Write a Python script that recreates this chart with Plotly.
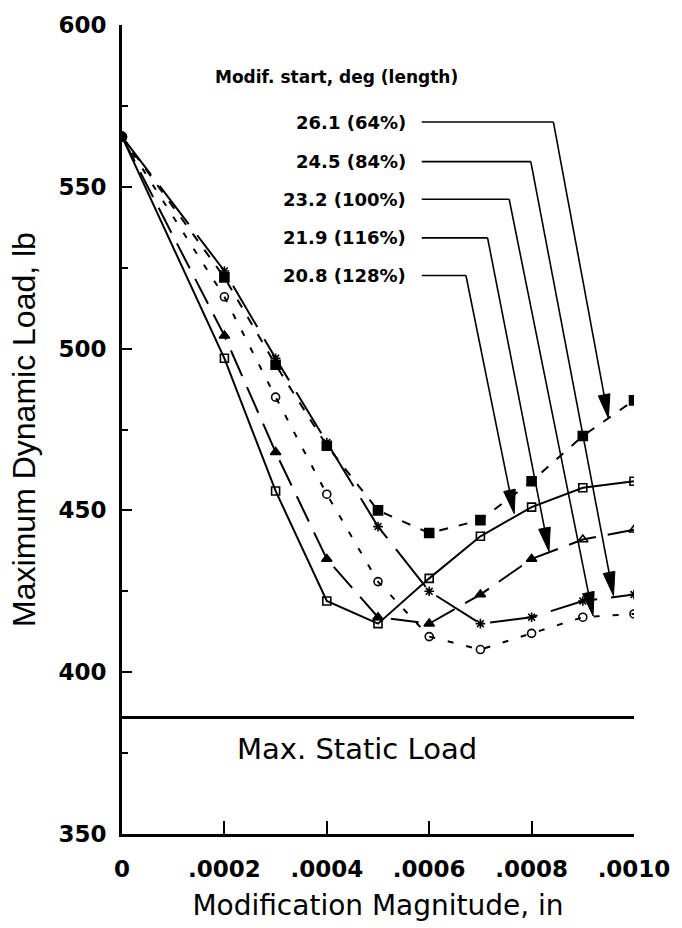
import plotly.graph_objects as go
import math

# ---------------- data ----------------
mod_mag = [0, 0.0002, 0.0003, 0.0004, 0.0005, 0.0006, 0.0007, 0.0008, 0.0009, 0.0010]

load_26_1 = [565.5, 522, 495, 470, 450, 443, 447, 459, 473, 484]   # filled squares
load_24_5 = [565.5, 524, 497, 471, 445, 425, 415, 417, 422, 424]   # stars
load_23_2 = [565.5, 516, 485, 455, 428, 411, 407, 412, 417, 418]   # open circles
load_21_9 = [565.5, 504, 468, 435, 417, 415, 424, 435, 441, 444]   # triangles
load_20_8 = [565.5, 497, 456, 422, 415, 429, 442, 451, 457, 459]   # open squares

static_load = 386

series_labels = ["26.1 (64%)", "24.5 (84%)", "23.2 (100%)", "21.9 (116%)", "20.8 (128%)"]
# arrow targets (x, y) on each curve
arrow_tip_x = [0.000950, 0.000960, 0.000920, 0.000834, 0.000766]
arrow_tip_y = [478.5, 423.6, 417.4, 437.3, 449.0]

x_ticks = [0, 0.0002, 0.0004, 0.0006, 0.0008, 0.0010]
x_tick_text = ["0", ".0002", ".0004", ".0006", ".0008", ".0010"]
y_ticks = [350, 400, 450, 500, 550, 600]
y_minor_ticks = [375, 425, 475, 525, 575]

# ---------------- layout geometry ----------------
W, H = 682, 928
ML, MR, MT, MB = 122, 39, 17, 94
PW, PH = W - ML - MR, H - MT - MB
XR = [0, 0.0010]
YR = [350, 600]
sx = PW / (XR[1] - XR[0])
sy = PH / (YR[1] - YR[0])

FONT = "DejaVu Sans"

fig = go.Figure()

def add_series(y, dash, symbols, size, lw=2.0):
    fig.add_trace(go.Scatter(
        x=mod_mag, y=y, mode="lines+markers",
        line=dict(color="black", width=lw, dash=dash),
        marker=dict(symbol=symbols, size=size, color="black",
                    line=dict(color="black", width=1.6)),
        showlegend=False, hoverinfo="skip"))

n = len(mod_mag)
add_series(load_20_8, "solid", ["circle"] + ["square-open"] * (n - 1), 8)
add_series(load_21_9, "28px,12px", ["circle"] + ["triangle-up"] * (n - 3) + ["triangle-up-open"] * 2, 9)
add_series(load_23_2, "6px,13px", ["circle"] + ["circle-open"] * (n - 1), 8)
add_series(load_24_5, "48px,14px", ["circle"] + ["asterisk-open"] * (n - 1), 8)
add_series(load_26_1, "9px,11px", ["circle"] + ["square"] * (n - 1), 9)

# static load line
fig.add_trace(go.Scatter(x=[XR[0], XR[1]], y=[static_load, static_load], mode="lines",
                         line=dict(color="black", width=3), showlegend=False, hoverinfo="skip"))

annotations = []
shapes = []

# legend block (pixel placement converted to axis units)
label_y_px = [115, 155, 193, 232, 270]
corner_x_px = [561, 538, 516, 494, 472]
label_right_px = 413
line_start_px = 427

def px2x(px):
    return XR[0] + (px - ML) / sx

def py2y(py):
    return YR[0] + (H - MB - py) / sy

for lab, lyp, cxp, tx, ty in zip(series_labels, label_y_px, corner_x_px, arrow_tip_x, arrow_tip_y):
    ly = py2y(lyp)
    annotations.append(dict(x=px2x(label_right_px), y=ly, xref="x", yref="y", text=lab,
                            showarrow=False, xanchor="right", yanchor="middle",
                            font=dict(family=FONT, size=18, color="black", weight="bold")))
    cx = px2x(cxp)
    shapes.append(dict(type="line", xref="x", yref="y", x0=px2x(line_start_px), y0=ly, x1=cx, y1=ly,
                       line=dict(color="black", width=1.6)))
    sxp, syp = cxp, lyp
    txp = ML + (tx - XR[0]) * sx
    typ = H - MB - (ty - YR[0]) * sy
    dx, dy = txp - sxp, typ - syp
    L = math.hypot(dx, dy)
    ux, uy = dx / L, dy / L
    nx, ny = -uy, ux
    hl, hw = 24, 6
    bx, by = txp - ux * hl, typ - uy * hl
    shapes.append(dict(type="line", xref="x", yref="y", x0=cx, y0=ly, x1=px2x(bx), y1=py2y(by),
                       line=dict(color="black", width=1.6)))
    p1 = (px2x(bx + nx * hw), py2y(by + ny * hw))
    p2 = (px2x(bx - nx * hw), py2y(by - ny * hw))
    path = f"M {p1[0]},{p1[1]} L {tx},{ty} L {p2[0]},{p2[1]} Z"
    shapes.append(dict(type="path", xref="x", yref="y", path=path,
                       fillcolor="black", line=dict(color="black", width=1)))

annotations.append(dict(x=px2x(340), y=py2y(70), xref="x", yref="y",
                        text="Modif. start, deg (length)", showarrow=False,
                        font=dict(family=FONT, size=17, color="black", weight="bold")))
annotations.append(dict(x=px2x(361), y=py2y(748), xref="x", yref="y",
                        text="Max. Static Load", showarrow=False,
                        font=dict(family=FONT, size=29, color="black")))

fig.update_layout(
    width=W, height=H,
    margin=dict(l=ML, r=MR, t=MT, b=MB),
    paper_bgcolor="white", plot_bgcolor="white",
    shapes=shapes, annotations=annotations,
    xaxis=dict(range=XR, tickvals=x_ticks, ticktext=x_tick_text,
               showgrid=False, zeroline=False, showline=True, linecolor="black", linewidth=3,
               ticks="inside", ticklen=13, tickwidth=2, tickcolor="black",
               ticklabelstandoff=12,
               tickfont=dict(family=FONT, size=23, color="black", weight="bold"),
               title=dict(text="Modification Magnitude, in", standoff=15,
                          font=dict(family=FONT, size=28, color="black"))),
    yaxis=dict(range=YR, tickvals=y_ticks,
               showgrid=False, zeroline=False, showline=True, linecolor="black", linewidth=3,
               ticks="inside", ticklen=10, tickwidth=2, tickcolor="black",
               ticklabelstandoff=8,
               minor=dict(tickvals=y_minor_ticks, ticks="inside", ticklen=6,
                          tickwidth=2, tickcolor="black"),
               tickfont=dict(family=FONT, size=23, color="black", weight="bold"),
               title=dict(text="Maximum Dynamic Load, lb", standoff=14,
                          font=dict(family="Liberation Sans", size=32, color="black"))),
)

fig.write_html("out.html", config={"displayModeBar": False},
               post_script="document.body.style.margin='0';document.body.style.overflow='hidden';")
